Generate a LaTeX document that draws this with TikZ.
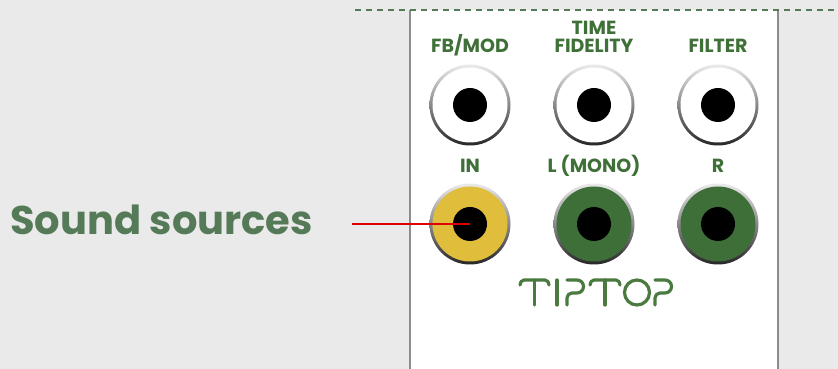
\documentclass[tikz,border=0pt]{standalone}
\usepackage{fontspec}
\setmainfont{Poppins}
\usepackage{tikz}
\usetikzlibrary{positioning}

\definecolor{bggrey}{HTML}{EAEAEA}
\definecolor{edgegrey}{HTML}{8C8C8C}
\definecolor{labelgreen}{HTML}{3F7038}
\definecolor{notegreen}{HTML}{557A58}
\definecolor{jackgreen}{HTML}{3E6F39}
\definecolor{jackyellow}{HTML}{E0BD3A}
\definecolor{logogreen}{HTML}{4A7A40}
\definecolor{pointred}{HTML}{E00000}

\begin{document}
\begin{tikzpicture}[x=1pt,y=1pt,
      every node/.style={inner sep=0pt},
      jackring/.style={circle,minimum size=81pt,top color=black!8,bottom color=black!85},
      jackface/.style={circle,minimum size=75pt},
      jackhole/.style={circle,fill=black,minimum size=34pt},
      jacklabel/.style={anchor=base,text=labelgreen,font=\fontsize{19}{16}\selectfont\bfseries},
      logo/.style={draw=logogreen,line width=3.2pt,line cap=round,line join=round}]
    % background and panel
    \fill[bggrey] (0,0) rectangle (838,369);
    \useasboundingbox (0,0) rectangle (838,369);
    \fill[white] (410,0) rectangle (778,359);
    \draw[edgegrey,line width=2pt] (410,0) -- (410,359);
    \draw[edgegrey,line width=2pt] (778,0) -- (778,359);
    \draw[notegreen,line width=2.4pt,dash pattern=on 6pt off 5pt] (355,359) -- (838,359);
    % jacks
    \foreach \name/\x/\y/\col in {fbmod/470/264/white,time/594/264/white,filter/718/264/white,
        in/470/145/jackyellow,left/594/145/jackgreen,right/718/145/jackgreen}{
      \node[jackring] (\name) at (\x,\y) {};
      \node[jackface,fill=\col] at (\name) {};
      \node[jackhole] at (\name) {};
    }
    % labels
    \node[jacklabel] (fbmodlabel) at (470,316) {FB/MOD};
    \node[jacklabel] (timelabel) at (594,334) {TIME};
    \node[jacklabel] (fidelitylabel) at (594,316) {FIDELITY};
    \node[jacklabel] (filterlabel) at (718,316) {FILTER};
    \node[jacklabel] (inlabel) at (470,196) {IN};
    \node[jacklabel] (leftlabel) at (594,196) {L (MONO)};
    \node[jacklabel] (rightlabel) at (718,196) {R};
    % logo
    \draw[logo] (520,84) to[out=90,in=180] (524,89) -- (545,89) to[out=0,in=90] (549,84);
    \draw[logo] (534.5,89) -- (534.5,64);
    \draw[logo] (557,89) -- (557,64);
    \draw[logo] (567,89) -- (577,89) arc[start angle=90,end angle=-90,radius=6.5]
        -- (572,76) to[out=180,in=90] (567,71) -- (567,64);
    \draw[logo] (590,84) to[out=90,in=180] (594,89) -- (616,89) to[out=0,in=90] (620,84);
    \draw[logo] (605,89) -- (605,64);
    \draw[logo] (637,76.5) circle[radius=12.5];
    \draw[logo] (655,89) -- (665,89) arc[start angle=90,end angle=-90,radius=6.5]
        -- (660,76) to[out=180,in=90] (655,71) -- (655,64);
    % note
    \node[anchor=base west,text=notegreen,font=\fontsize{40}{40}\selectfont\bfseries] (sources) at (10,134) {Sound sources};
    \coordinate (pointer) at (352,145);
    \draw[pointred,line width=2pt] (pointer) -- (in.center);
\end{tikzpicture}
\end{document}
